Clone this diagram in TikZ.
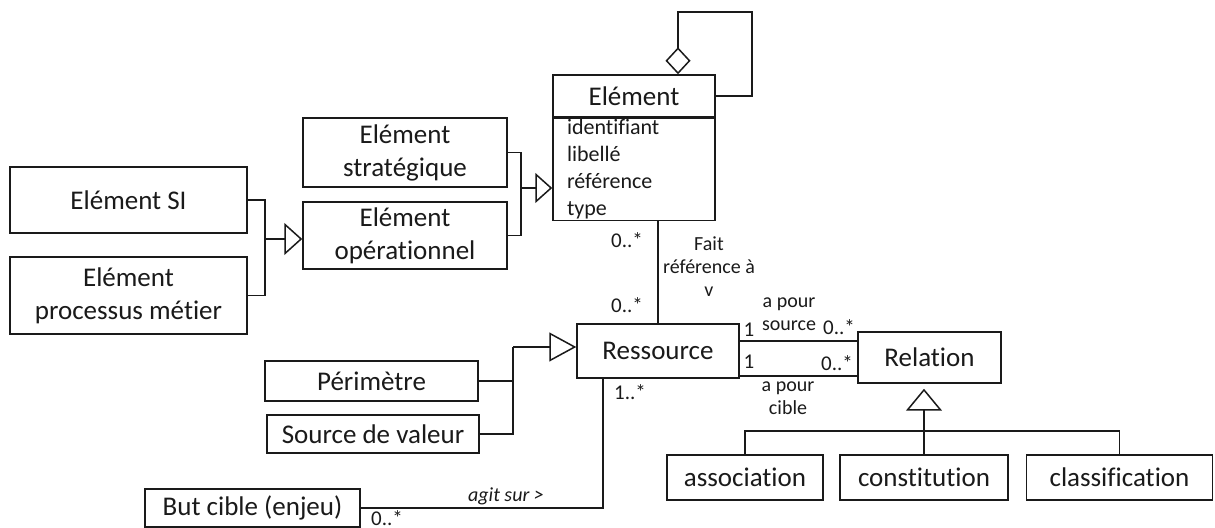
\documentclass[tikz,border=0pt]{standalone}
\usepackage{fontspec}
\setmainfont{Carlito}[Ligatures=NoCommon]
\usetikzlibrary{positioning,arrows.meta}
\definecolor{Ink}{HTML}{1A1A1A}
\tikzset{
  cls/.style={draw=Ink,fill=white,align=center,inner sep=0pt,font=\fontsize{13.5}{16.5}\selectfont},
  attr/.style={draw=Ink,fill=white,align=left,inner xsep=7pt,inner ysep=0pt,font=\fontsize{11}{13.5}\selectfont},
  mult/.style={inner sep=0pt,font=\fontsize{10.5}{12}\selectfont},
  role/.style={inner sep=0pt,align=center,font=\fontsize{10}{11.5}\selectfont},
  genelem/.style={-{Triangle[open,length=8.5pt,width=15pt]}},
  genoper/.style={-{Triangle[open,length=9pt,width=16pt]}},
  genress/.style={-{Triangle[open,length=13.5pt,width=14.5pt]}},
  genrel/.style={-{Triangle[open,length=11pt,width=18pt]}},
  aggr/.style={-{Diamond[open,length=13.5pt,width=12.5pt]}}
}

\begin{document}
\begin{tikzpicture}[x=0.5pt,y=-0.5pt,line width=0.75pt,draw=Ink,every node/.style={text=Ink}]
\fill[white] (0,0) rectangle (1215,528);
\useasboundingbox (0,0) rectangle (1215,528);
% classes
\node[cls,minimum width=118.5pt,minimum height=33pt] (si) at (128.5,200) {Elément SI};
\node[cls,minimum width=118.5pt,minimum height=38.5pt] (proc) at (128.5,295.5) {Elément\\processus métier};
\node[cls,minimum width=102pt,minimum height=34.5pt] (strat) at (405,152.5) {Elément\\stratégique};
\node[cls,minimum width=102pt,minimum height=33.5pt] (oper) at (405,235.5) {Elément\\opérationnel};
\node[cls,minimum width=81pt,minimum height=21pt] (elem) at (634,96) {Elément};
\node[attr,text width=67pt,minimum height=51pt,below=0pt of elem] (elemattr) {identifiant\\libellé\\référence\\type};
\node[cls,minimum width=81pt,minimum height=27pt] (ress) at (658,351) {Ressource};
\node[cls,minimum width=106.5pt,minimum height=20pt] (perim) at (371.5,381) {Périmètre};
\node[cls,minimum width=106pt,minimum height=19pt] (valeur) at (373,434) {Source de valeur};
\node[cls,minimum width=71.5pt,minimum height=25.5pt] (rel) at (929.5,357.5) {Relation};
\node[cls,minimum width=78pt,minimum height=22.5pt] (assoc) at (745,477.5) {association};
\node[cls,minimum width=84pt,minimum height=22.5pt] (constit) at (924,477.5) {constitution};
\node[cls,minimum width=93pt,minimum height=22.5pt] (classif) at (1119.5,477.5) {classification};
\node[cls,minimum width=107.5pt,minimum height=19pt] (but) at (252.5,508) {But cible (enjeu)};
% generalisations
\coordinate (j1) at (265,239);
\draw (si.east) -| (j1) |- (proc.east);
\draw[genoper] (j1) -- (j1 -| oper.west);
\coordinate (j2) at (521,188);
\draw (strat.east) -| (j2) |- (oper.east);
\draw[genelem] (j2) -- (j2 -| elemattr.west);
\coordinate (j3) at (513,347);
\draw (valeur.east) -| (j3);
\draw (perim.east) -- (perim.east -| j3);
\draw[genress] (j3) -- (j3 -| ress.west);
\coordinate (j4) at (924,431);
\draw (assoc.north) |- (j4) -| (classif.north);
\draw (constit.north) -- (j4);
\draw[genrel,shorten >=2.5pt] (j4) -- (j4 |- rel.south);
% self aggregation
\coordinate (loop) at (752,12);
\coordinate (whole) at ([xshift=22pt]elem.north);
\draw[aggr] (elem.east) -| (loop) -| (whole);
% associations
\draw (ress.north |- elemattr.south) -- (ress.north);
\node[mult] (m1) at (627,240) {0..*};
\node[mult] (m2) at (627,305) {0..*};
\node[role] (fait) at (709,267) {Fait\\référence à\\v};
\coordinate (src) at ([yshift=5pt]ress.east);
\coordinate (tgt) at ([yshift=-12.5pt]ress.east);
\draw (src) -- (src -| rel.west);
\draw (tgt) -- (tgt -| rel.west);
\node[mult] (s1) at (749,330) {1};
\node[mult] (s2) at (839,327) {0..*};
\node[role] (srcrole) at (789,314) {a pour\\source};
\node[mult] (c1) at (749,362) {1};
\node[mult] (c2) at (837,363) {0..*};
\node[role] (cblrole) at (788,398) {a pour\\cible};
\coordinate (k) at (603,508);
\draw (k |- ress.south) -- (k) -- (but.east);
\node[mult] (r1) at (630,392) {1..*};
\node[role,font=\fontsize{10}{11.5}\selectfont\itshape] (agit) at (506,496) {agit sur >};
\node[mult] (b1) at (387,518) {0..*};
\end{tikzpicture}
\end{document}
